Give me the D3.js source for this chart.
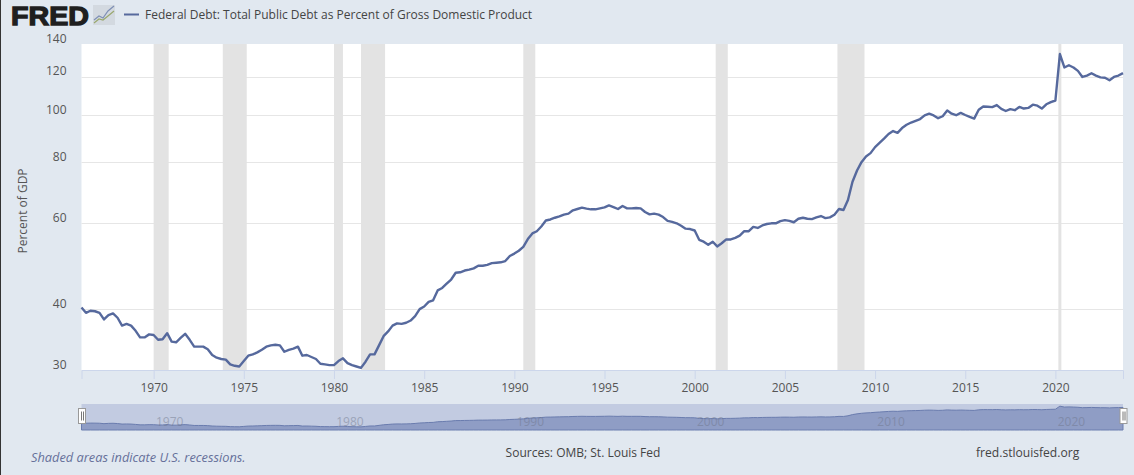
<!DOCTYPE html>
<html><head><meta charset="utf-8">
<script src="https://cdnjs.cloudflare.com/ajax/libs/d3/7.8.5/d3.min.js"></script>
<style>html,body{margin:0;padding:0;background:#e1e8f0;overflow:hidden}svg{display:block}text{font-family:"Open Sans",sans-serif}</style>
</head><body><svg id="c" width="1134" height="475"></svg>
<script>
const startYear = 1966;
const debtValues = [
40.3,39.3,39.7,39.6,39.3,38.1,38.9,39.2,38.4,37.0,37.3,37.0,36.1,35.0,35.0,35.5,
35.4,34.6,34.7,35.7,34.3,34.2,34.9,35.6,34.6,33.5,33.5,33.5,33.1,32.2,31.8,31.6,
31.5,30.8,30.6,30.5,31.3,32.1,32.3,32.6,33.0,33.5,33.7,33.8,33.7,32.7,33.0,33.2,
33.5,32.1,32.2,31.9,31.6,30.9,30.8,30.7,30.7,31.3,31.7,31.0,30.7,30.5,30.3,31.2,
32.3,32.3,33.7,35.2,36.0,37.0,37.4,37.3,37.5,37.9,38.7,40.0,40.5,41.4,41.7,43.7,
44.2,45.1,46.0,47.5,47.6,48.0,48.2,48.5,49.1,49.1,49.3,49.7,49.8,49.9,50.2,51.4,
52.0,52.7,53.7,55.7,57.2,57.8,59.1,60.8,61.1,61.6,62.0,62.5,62.8,63.8,64.2,64.6,
64.3,64.1,64.1,64.4,64.7,65.3,64.8,64.2,65.1,64.4,64.4,64.5,64.4,63.3,62.6,62.8,
62.5,61.8,60.7,60.4,60.0,59.3,58.5,58.4,58.0,55.5,55.0,54.2,55.0,53.8,54.6,55.6,
55.6,56.0,56.6,57.8,57.8,59.0,58.7,59.4,59.8,60.0,60.0,60.6,60.9,60.7,60.3,61.3,
61.6,61.3,61.2,61.7,62.1,61.5,61.7,62.5,64.2,63.9,67.0,73.0,77.0,80.1,82.3,83.6,
86.0,87.7,89.5,91.5,92.8,92.0,94.1,95.6,96.6,97.4,98.2,99.9,100.7,99.9,98.6,99.5,
102.3,100.7,100.0,101.1,100.1,99.2,98.4,102.6,104.2,104.1,103.9,104.9,103.0,102.0,102.9,102.4,
104.0,103.2,103.5,105.1,104.6,103.2,105.3,106.4,107.2,133.5,125.3,126.6,125.3,123.3,119.8,120.6,
121.9,120.6,119.6,119.4,118.0,119.8,120.6,122.0
];
const yTicks = [30,40,60,80,100,120,140];
const xTickYears = [1970,1975,1980,1985,1990,1995,2000,2005,2010,2015,2020];
const navLabelYears = [1970,1980,1990,2000,2010,2020];
const recessionStarts = ["1970-01-01","1973-11-01","1980-01-01","1981-07-01","1990-07-01","2001-03-01","2007-12-01","2020-03-01"];
const recessionEnds   = ["1970-11-01","1975-03-01","1980-07-01","1982-11-01","1991-03-01","2001-11-01","2009-06-01","2020-05-01"];

const bg="#e1e8f0", lineCol="#56699d", txt="#555555";
const svg=d3.select("#c");
svg.append("rect").attr("width",1134).attr("height",475).attr("fill",bg);
svg.append("rect").attr("width",1).attr("height",475).attr("fill","#333");

const dates=debtValues.map((_,i)=>new Date(Date.UTC(startYear,i*3,1)));
const series=dates.map((d,i)=>({d,v:debtValues[i]}));
const L=81.5,R=1123,T=44,B=370;
const x=d3.scaleUtc().domain([dates[0],dates[dates.length-1]]).range([L,R]);
const y=d3.scaleLog().domain([30,140]).range([B,T]);
svg.append("rect").attr("x",L).attr("y",T).attr("width",R-L).attr("height",B-T).attr("fill","#fff");

const yAxis=d3.axisLeft(y).tickValues(yTicks).tickSize(0).tickFormat(d3.format("d"));
const gy=svg.append("g").attr("transform",`translate(${L},0)`).call(yAxis);
gy.select(".domain").remove();
gy.selectAll("text").attr("x",-15).attr("dy",-2).attr("fill",txt).style("font-size","12px");
svg.append("g").selectAll("line").data(yTicks.filter(t=>t!==30&&t!==140)).join("line")
 .attr("x1",L).attr("x2",R).attr("y1",d=>Math.round(y(d))+.5).attr("y2",d=>Math.round(y(d))+.5)
 .attr("stroke","#e6e6e6");

svg.append("g").selectAll("rect").data(recessionStarts).join("rect")
 .attr("x",d=>x(new Date(d))).attr("width",(d,i)=>x(new Date(recessionEnds[i]))-x(new Date(d)))
 .attr("y",T).attr("height",B-T).attr("fill","#e3e3e3");

const xAxis=d3.axisBottom(x).tickValues(xTickYears.map(yr=>new Date(Date.UTC(yr,0,1)))).tickSize(9).tickPadding(4).tickFormat(d3.utcFormat("%Y"));
const gx=svg.append("g").attr("transform",`translate(0,${B})`).call(xAxis);
gx.select(".domain").attr("stroke","#ccd6eb");
gx.selectAll("line").attr("stroke","#ccd6eb");
gx.selectAll("text").attr("fill",txt).style("font-size","12px");

svg.append("path").datum(series).attr("fill","none").attr("stroke",lineCol).attr("stroke-width",2.4).attr("stroke-linejoin","round")
 .attr("d",d3.line().x(d=>x(d.d)).y(d=>y(d.v)));

svg.append("text").attr("transform","translate(27,211) rotate(-90)").attr("text-anchor","middle").attr("fill",txt).style("font-size","12px").text("Percent of GDP");

const nT=404,nB=430;
svg.append("rect").attr("x",L).attr("y",nT).attr("width",R-L).attr("height",nB-nT).attr("fill","#c2cbe1");
const ny=d3.scaleLog().domain([30,140]).range([427,405.5]);
svg.append("path").datum(series).attr("fill","#8f9dc5").attr("stroke","#6a7cae").attr("stroke-width",1)
 .attr("d",d3.area().x(d=>x(d.d)).y0(nB).y1(d=>ny(d.v)));
svg.append("g").selectAll("text").data(navLabelYears).join("text")
 .attr("x",d=>x(new Date(Date.UTC(d,0,1)))+16).attr("y",426).attr("text-anchor","middle")
 .attr("fill","#6d7488").attr("opacity",.45).style("font-size","12px").text(d=>d);
[L-3.5,R-3.5].forEach(hx=>{
 const h=svg.append("g").attr("transform",`translate(${hx},408)`);
 h.append("rect").attr("x",.5).attr("y",.5).attr("width",7).attr("height",15).attr("fill","#fff").attr("stroke","#999");
 [3,5].forEach(dx=>h.append("line").attr("x1",dx+.5).attr("x2",dx+.5).attr("y1",3.5).attr("y2",12.5).attr("stroke","#777"));
});

svg.append("text").attr("x",11).attr("y",24.5).attr("fill","#1f1f1f").attr("stroke","#1f1f1f").attr("stroke-width",1.3)
 .attr("textLength",78).attr("lengthAdjust","spacingAndGlyphs")
 .style("font-family",'"Liberation Sans",sans-serif').style("font-weight",700).style("font-size","26.5px").text("FRED");
const icon=svg.append("g").attr("transform","translate(93,5)");
icon.append("rect").attr("width",22).attr("height",20).attr("fill","#d3d9e0");
icon.append("path").attr("d","M1 15L6 11L10 13L15 6L21 1").attr("fill","none").attr("stroke","#7e8fb5").attr("stroke-width",1.2);
icon.append("path").attr("d","M1 18L6 14L10 15L15 11L21 6").attr("fill","none").attr("stroke","#9aa86f").attr("stroke-width",1.2);
svg.append("line").attr("x1",124).attr("x2",139).attr("y1",14.5).attr("y2",14.5).attr("stroke",lineCol).attr("stroke-width",2);
svg.append("text").attr("x",145).attr("y",19).attr("fill","#444").style("font-size","12px").text("Federal Debt: Total Public Debt as Percent of Gross Domestic Product");

svg.append("text").attr("x",31).attr("y",462).attr("fill","#66709a").style("font-style","italic").style("font-size","12.8px").text("Shaded areas indicate U.S. recessions.");
svg.append("text").attr("x",583).attr("y",457).attr("text-anchor","middle").attr("fill","#444").style("font-size","12px").text("Sources: OMB; St. Louis Fed");
svg.append("text").attr("x",976).attr("y",457).attr("fill","#444").style("font-size","12.1px").text("fred.stlouisfed.org");
</script></body></html>
